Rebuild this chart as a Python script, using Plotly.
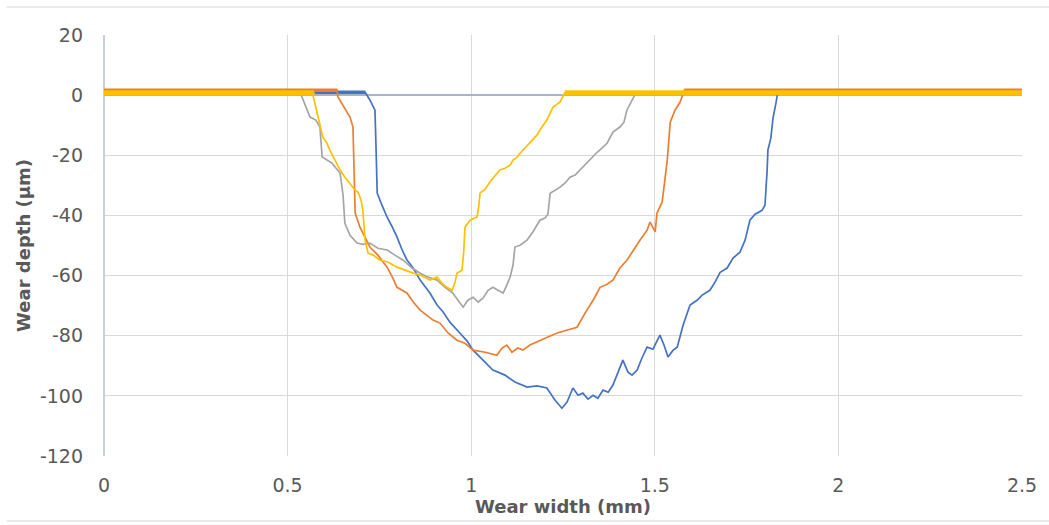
import plotly.graph_objects as go

# Wear-track profiles: width across the track (mm) vs depth (µm)
blue_x = [0.0, 0.711, 0.724, 0.738, 0.741, 0.744, 0.757, 0.771, 0.784, 0.798, 0.812, 0.825, 0.842, 0.861,
          0.888, 0.907, 0.923, 0.942, 0.969, 0.989, 1.005, 1.024, 1.059, 1.092, 1.119, 1.152, 1.179, 1.206,
          1.228, 1.247, 1.261, 1.277, 1.291, 1.304, 1.318, 1.332, 1.345, 1.359, 1.373, 1.386, 1.400, 1.413,
          1.427, 1.438, 1.452, 1.465, 1.479, 1.495, 1.514, 1.525, 1.536, 1.550, 1.561, 1.577, 1.596, 1.615,
          1.629, 1.650, 1.664, 1.678, 1.697, 1.713, 1.732, 1.746, 1.759, 1.773, 1.792, 1.800, 1.806, 1.808,
          1.816, 1.822, 1.830, 1.835, 2.5]
blue_y = [1.0, 1.0, -1.6, -5.0, -18.3, -32.6, -36.6, -40.6, -43.6, -47.2, -51.5, -54.8, -57.5, -61.5,
          -65.9, -69.8, -72.0, -75.5, -79.1, -81.8, -84.8, -87.1, -91.4, -93.1, -95.4, -97.1, -96.7, -97.4,
          -101.4, -104.1, -102.1, -97.4, -99.8, -99.1, -101.1, -99.8, -100.8, -98.1, -98.8, -96.4, -92.1, -88.1,
          -92.1, -93.1, -91.4, -87.4, -83.8, -84.5, -79.8, -83.1, -87.1, -84.8, -83.8, -76.5, -69.8, -68.2,
          -66.5, -64.9, -62.2, -58.9, -57.5, -54.2, -52.2, -48.2, -41.6, -39.6, -38.3, -36.6, -24.9, -18.3,
          -14.3, -7.6, -2.6, 1.0, 1.0]

orange_x = [0.0, 0.635, 0.637, 0.651, 0.670, 0.678, 0.681, 0.684, 0.697, 0.711, 0.724, 0.746, 0.771, 0.787,
            0.798, 0.825, 0.842, 0.861, 0.880, 0.896, 0.915, 0.937, 0.961, 0.983, 1.005, 1.038, 1.070, 1.084,
            1.097, 1.111, 1.127, 1.141, 1.160, 1.187, 1.209, 1.234, 1.261, 1.288, 1.315, 1.332, 1.351, 1.370,
            1.386, 1.405, 1.424, 1.441, 1.460, 1.479, 1.487, 1.501, 1.506, 1.520, 1.528, 1.534, 1.542, 1.555,
            1.569, 1.580, 2.5]
orange_y = [1.6, 1.6, -0.6, -3.3, -7.3, -10.6, -21.6, -39.2, -43.9, -47.6, -50.5, -53.2, -57.2, -60.9,
            -63.9, -65.8, -68.8, -71.5, -73.2, -74.8, -75.8, -79.1, -81.5, -82.5, -84.8, -85.5, -86.5, -84.1,
            -83.1, -85.5, -84.1, -84.8, -83.1, -81.5, -80.4, -79.1, -78.1, -77.2, -71.5, -68.2, -63.9, -62.9,
            -61.5, -57.5, -54.9, -51.6, -48.2, -44.9, -42.2, -45.5, -39.2, -35.6, -28.3, -21.6, -9.0, -5.0,
            -2.3, 1.6, 1.6]

gray_x = [0.0, 0.534, 0.539, 0.550, 0.561, 0.577, 0.588, 0.594, 0.607, 0.621, 0.632, 0.643, 0.651, 0.656,
          0.670, 0.689, 0.705, 0.724, 0.746, 0.771, 0.792, 0.814, 0.839, 0.861, 0.882, 0.907, 0.929, 0.950,
          0.964, 0.978, 0.991, 1.005, 1.019, 1.032, 1.046, 1.059, 1.073, 1.087, 1.097, 1.106, 1.114, 1.119,
          1.133, 1.152, 1.168, 1.187, 1.201, 1.209, 1.215, 1.228, 1.242, 1.255, 1.269, 1.283, 1.296, 1.310,
          1.324, 1.343, 1.356, 1.370, 1.386, 1.405, 1.416, 1.424, 1.441, 1.449, 2.5]
gray_y = [0.8, 0.8, -0.6, -4.0, -7.3, -8.3, -10.6, -20.6, -21.6, -22.6, -24.3, -25.9, -33.2, -42.6,
          -46.6, -49.2, -49.6, -49.2, -50.9, -51.5, -53.2, -54.8, -57.5, -59.2, -60.5, -61.5, -63.9, -65.8,
          -68.2, -70.5, -68.2, -67.2, -68.8, -67.5, -64.9, -63.9, -64.9, -65.8, -63.2, -60.5, -56.5, -50.5,
          -49.9, -48.2, -45.5, -41.6, -40.9, -39.6, -32.6, -31.6, -30.6, -29.3, -27.3, -26.6, -24.9, -23.3,
          -21.6, -19.0, -17.6, -16.0, -12.3, -10.6, -9.0, -5.0, -1.0, 0.8, 0.8]

yellow_x = [0.0, 0.566, 0.569, 0.577, 0.588, 0.596, 0.607, 0.615, 0.629, 0.643, 0.656, 0.670, 0.684, 0.692,
            0.700, 0.705, 0.708, 0.711, 0.719, 0.733, 0.752, 0.773, 0.798, 0.820, 0.842, 0.861, 0.888, 0.907,
            0.920, 0.934, 0.948, 0.956, 0.961, 0.975, 0.980, 0.983, 0.997, 1.016, 1.021, 1.024, 1.038, 1.051,
            1.065, 1.078, 1.092, 1.106, 1.114, 1.125, 1.133, 1.141, 1.152, 1.168, 1.179, 1.187, 1.198, 1.206,
            1.215, 1.223, 1.234, 1.242, 1.250, 1.255, 2.5]
yellow_y = [0.8, 0.8, 0.0, -4.3, -9.3, -14.0, -16.0, -18.3, -21.6, -24.9, -27.3, -29.3, -31.6, -32.3,
            -34.9, -38.2, -43.2, -48.2, -52.5, -53.2, -54.9, -55.5, -57.2, -58.2, -59.2, -59.8, -61.5, -60.5,
            -62.5, -63.9, -64.9, -62.2, -59.2, -58.2, -51.5, -43.9, -41.6, -40.5, -36.6, -32.6, -31.3, -28.9,
            -26.9, -24.9, -24.3, -23.3, -21.6, -20.6, -19.3, -18.3, -16.9, -15.0, -13.3, -11.6, -9.6, -8.3,
            -6.0, -4.0, -3.0, -2.3, -0.3, 0.8, 0.8]

# name, x, y, colour, width of the unworn-surface band
series = [
    ("Profile 1", blue_x, blue_y, "#4472C4", 3.5),
    ("Profile 2", orange_x, orange_y, "#ED7D31", 3.5),
    ("Profile 3", gray_x, gray_y, "#A5A5A5", 3.0),
    ("Profile 4", yellow_x, yellow_y, "#FFC000", 5.0),
]

x_ticks = [0, 0.5, 1, 1.5, 2, 2.5]
y_ticks = [20, 0, -20, -40, -60, -80, -100, -120]

fig = go.Figure()

for name, xs, ys, color, band in series:
    # the groove itself
    fig.add_trace(go.Scatter(x=xs, y=ys, mode="lines", name=name,
                             line=dict(color=color, width=1.7), showlegend=False,
                             hoverinfo="x+y"))
    # unworn surface on both sides of the groove (noisy, drawn as a thicker band)
    first = next(i for i, v in enumerate(ys) if v < 0)
    last = max(i for i, v in enumerate(ys) if v < 0)
    for seg_x, seg_y in ((xs[:first], ys[:first]), (xs[last + 1:], ys[last + 1:])):
        fig.add_trace(go.Scatter(x=seg_x, y=seg_y, mode="lines", name=name,
                                 line=dict(color=color, width=band), showlegend=False,
                                 hoverinfo="skip"))

tick_font = dict(family="DejaVu Sans", size=19, color="#595959")
title_font = dict(family="DejaVu Sans", size=18, color="#595959")

fig.update_layout(
    width=1049, height=525,
    margin=dict(l=104, r=27, t=35, b=69),
    paper_bgcolor="white", plot_bgcolor="white",
    showlegend=False,
    xaxis=dict(
        range=[0, 2.5], tickvals=x_ticks, ticktext=[f"{v:g}" for v in x_ticks],
        showgrid=True, gridcolor="#d9d9d9", gridwidth=1,
        zeroline=True, zerolinecolor="#c8cfd9", zerolinewidth=1.5,
        showline=False, ticks="", tickfont=tick_font, ticklabelstandoff=16,
        title=dict(text="<b>Wear width (mm)</b>", font=title_font, standoff=3),
        automargin=False,
    ),
    yaxis=dict(
        range=[-120, 20], tickvals=y_ticks, ticktext=[str(v) for v in y_ticks],
        showgrid=True, gridcolor="#d9d9d9", gridwidth=1,
        zeroline=True, zerolinecolor="#aab4c3", zerolinewidth=1.5,
        showline=False, ticks="", tickfont=tick_font, ticklabelstandoff=20,
        title=dict(text="<b>Wear depth (μm)</b>", font=title_font, standoff=4),
        automargin=False,
    ),
    shapes=[
        dict(type="line", xref="paper", yref="paper", x0=-0.106, x1=1.03, y0=1.0665, y1=1.0665,
             line=dict(color="#e3e3e3", width=1.5)),
        dict(type="line", xref="paper", yref="paper", x0=-0.106, x1=1.03, y0=-0.1544, y1=-0.1544,
             line=dict(color="#e3e3e3", width=1.5)),
    ],
)

fig.write_html("out.html")
